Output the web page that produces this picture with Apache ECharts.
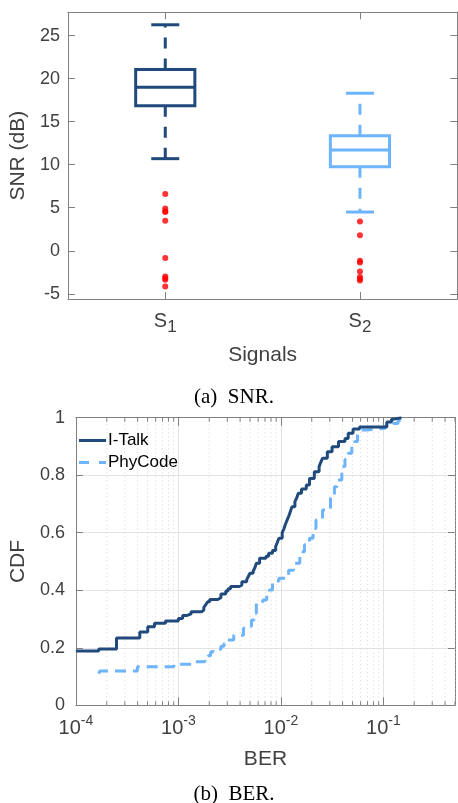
<!DOCTYPE html>
<html><head><meta charset="utf-8">
<script src="https://cdn.jsdelivr.net/npm/echarts@6/dist/echarts.min.js"></script>
<style>html,body{margin:0;padding:0;background:#fff}#c{width:458px;height:803px}</style>
</head><body><div id="c"></div>
<script>
// ---------- data ----------
const signalCategories = ['S1', 'S2'];
const signalSubscripts = ['1', '2'];
// [lower whisker, Q1, median, Q3, upper whisker]
const boxS1 = [10.7, 16.85, 19.0, 21.05, 26.25];
const boxS2 = [4.5, 9.75, 11.7, 13.35, 18.3];
const outliersS1 = [6.6, 4.9, 4.6, 4.5, 3.5, -0.85, -3.0, -3.2, -3.35, -4.15];
const outliersS2 = [3.4, 1.8, -1.15, -1.35, -2.4, -3.05, -3.25, -3.45];
const snrTicks = [-5, 0, 5, 10, 15, 20, 25];

const iTalkBER = [1.0e-4, 1.67e-4, 2.49e-4, 4.20e-4, 5.02e-4, 5.85e-4, 7.48e-4, 1.0e-3, 1.10e-3, 1.20e-3,
  1.33e-3, 1.68e-3, 1.77e-3, 1.85e-3, 1.93e-3, 2.02e-3, 2.42e-3, 2.60e-3, 2.90e-3, 3.05e-3,
  3.23e-3, 3.87e-3, 4.16e-3, 4.64e-3, 4.81e-3, 4.99e-3, 5.36e-3, 5.60e-3, 5.76e-3, 6.20e-3,
  7.16e-3, 7.59e-3, 8.28e-3, 8.89e-3, 9.22e-3, 9.57e-3, 1.03e-2, 1.07e-2, 1.10e-2, 1.15e-2,
  1.20e-2, 1.24e-2, 1.28e-2, 1.37e-2, 1.43e-2, 1.48e-2, 1.59e-2, 1.77e-2, 1.90e-2, 2.12e-2,
  2.36e-2, 2.45e-2, 2.55e-2, 2.84e-2, 3.16e-2, 3.65e-2, 4.22e-2, 4.54e-2, 5.06e-2, 5.85e-2,
  0.108, 0.120, 0.126, 0.150];
const iTalkCDF = [0.189, 0.196, 0.234, 0.255, 0.273, 0.285, 0.293, 0.302, 0.312, 0.318,
  0.325, 0.331, 0.340, 0.350, 0.360, 0.368, 0.374, 0.387, 0.397, 0.405,
  0.413, 0.418, 0.430, 0.437, 0.448, 0.459, 0.466, 0.480, 0.494, 0.511,
  0.518, 0.529, 0.538, 0.552, 0.566, 0.581, 0.600, 0.613, 0.627, 0.644,
  0.660, 0.675, 0.690, 0.708, 0.722, 0.737, 0.752, 0.766, 0.789, 0.812,
  0.830, 0.845, 0.859, 0.882, 0.899, 0.917, 0.928, 0.946, 0.961, 0.968,
  0.985, 0.995, 1.0, 1.0];

const phyBER = [1.67e-4, 1.71e-4, 3.98e-4, 9.04e-4, 1.36e-3, 1.81e-3, 1.95e-3, 2.06e-3, 2.17e-3, 2.60e-3,
  2.79e-3, 3.00e-3, 3.47e-3, 4.31e-3, 4.81e-3, 5.17e-3, 5.48e-3, 5.76e-3, 6.66e-3, 7.27e-3,
  7.71e-3, 8.28e-3, 9.57e-3, 1.19e-2, 1.33e-2, 1.53e-2, 1.70e-2, 1.90e-2, 2.06e-2, 2.20e-2,
  2.55e-2, 3.05e-2, 3.33e-2, 3.52e-2, 3.93e-2, 4.22e-2, 4.54e-2, 4.92e-2, 5.25e-2, 5.60e-2,
  5.85e-2, 6.76e-2, 0.104, 0.125, 0.139, 0.161];
const phyCDF = [0.110, 0.119, 0.134, 0.143, 0.151, 0.160, 0.172, 0.185, 0.195, 0.205,
  0.215, 0.227, 0.244, 0.268, 0.275, 0.297, 0.320, 0.355, 0.366, 0.385,
  0.401, 0.432, 0.442, 0.470, 0.494, 0.534, 0.558, 0.581, 0.615, 0.644,
  0.679, 0.725, 0.760, 0.783, 0.830, 0.855, 0.876, 0.900, 0.917, 0.940,
  0.957, 0.963, 0.971, 0.980, 0.990, 1.0];

const seriesNames = ['I-Talk', 'PhyCode'];
const captions = ['(a)  SNR.', '(b)  BER.'];

// ---------- style ----------
const FONT = '"Liberation Sans", Arial, Helvetica, sans-serif';
const SERIF = '"Liberation Serif", "Times New Roman", serif';
const TXT = '#404040';
const FRAME = '#808080';
const DARK = '#1f4a7b';
const LIGHT = '#6db4fb';
const boxColors = [DARK, LIGHT];

const boxData = [[0].concat(boxS1), [1].concat(boxS2)];
const outlierData = outliersS1.map(v => [0, v]).concat(outliersS2.map(v => [1, v]));
const minorVals = [];
for (let e = -4; e <= -1; e++) for (let m = 2; m <= 9; m++) { const v = m * Math.pow(10, e); if (v <= 0.5) minorVals.push([v, 0]); }

function renderBox(params, api) {
  const i = api.value(0);
  const mn = api.value(1), q1 = api.value(2), md = api.value(3), q3 = api.value(4), mx = api.value(5);
  const x = api.coord([i, md])[0];
  const band = api.size([1, 0])[0];
  const hw = band * 0.152, cw = band * 0.072;
  const y = v => api.coord([i, v])[1];
  const col = boxColors[i];
  const st = { stroke: col, lineWidth: 3, fill: null };
  const dash = { stroke: col, lineWidth: 3, lineDash: [11, 10], fill: null };
  return { type: 'group', children: [
    { type: 'line', shape: { x1: x, y1: y(q3), x2: x, y2: y(mx) }, style: dash },
    { type: 'line', shape: { x1: x, y1: y(q1), x2: x, y2: y(mn) }, style: dash },
    { type: 'line', shape: { x1: x - cw, y1: y(mx), x2: x + cw, y2: y(mx) }, style: st },
    { type: 'line', shape: { x1: x - cw, y1: y(mn), x2: x + cw, y2: y(mn) }, style: st },
    { type: 'rect', shape: { x: x - hw, y: y(q3), width: 2 * hw, height: y(q1) - y(q3) }, style: { stroke: col, lineWidth: 3, fill: 'rgba(0,0,0,0)' } },
    { type: 'line', shape: { x1: x - hw, y1: y(md), x2: x + hw, y2: y(md) }, style: st }
  ]};
}

function renderMinor(params, api) {
  const v = api.value(0);
  const b = api.coord([v, 0]), t = api.coord([v, 1]);
  return { type: 'group', children: [
    { type: 'line', shape: { x1: b[0], y1: b[1], x2: t[0], y2: t[1] }, style: { stroke: '#d4d4d4', lineWidth: 1, lineDash: [1, 3] } },
    { type: 'line', shape: { x1: b[0], y1: b[1], x2: b[0], y2: b[1] - 4 }, style: { stroke: FRAME, lineWidth: 1 } },
    { type: 'line', shape: { x1: t[0], y1: t[1], x2: t[0], y2: t[1] + 4 }, style: { stroke: FRAME, lineWidth: 1 } }
  ]};
}

const axLine = { show: true, onZero: false, lineStyle: { color: FRAME, width: 1 } };
const tickIn = (len) => ({ show: true, inside: true, length: len, lineStyle: { color: FRAME, width: 1 } });

const chart = echarts.init(document.getElementById('c'));
chart.setOption({
  animation: false,
  backgroundColor: '#fff',
  title: [
    { text: captions[0], left: 234, top: 387, textAlign: 'center', padding: 0,
      textStyle: { fontFamily: SERIF, fontSize: 21, fontWeight: 'normal', color: '#000' } },
    { text: captions[1], left: 234, top: 784, textAlign: 'center', padding: 0,
      textStyle: { fontFamily: SERIF, fontSize: 21, fontWeight: 'normal', color: '#000' } }
  ],
  legend: {
    data: [
      { name: seriesNames[0], icon: 'path://M0,0H27V3H0Z' },
      { name: seriesNames[1], icon: 'path://M0,0H10V3H0Z M20,0H27V3H20Z' }
    ],
    orient: 'vertical', left: 79, top: 432, itemGap: 5,
    itemWidth: 27, itemHeight: 3, padding: 0,
    textStyle: { fontFamily: FONT, fontSize: 17, color: '#000', padding: [0, 0, 0, -3] }
  },
  grid: [
    { left: 63, top: 12.3, width: 394.3, height: 286.7 },
    { left: 66.7, top: 417.7, width: 392, height: 287.6 }
  ],
  xAxis: [
    { gridIndex: 0, type: 'category', data: signalCategories, position: 'bottom', boundaryGap: true,
      axisLine: axLine, axisTick: Object.assign(tickIn(7), { alignWithLabel: true }),
      axisLabel: { margin: 12, formatter: (v, i) => '{a|S}{b|' + signalSubscripts[i] + '}',
        rich: { a: { fontFamily: FONT, fontSize: 20, lineHeight: 25, verticalAlign: 'top', color: TXT },
                b: { fontFamily: FONT, fontSize: 17, lineHeight: 25, verticalAlign: 'bottom', color: TXT } } },
      name: 'Signals', nameLocation: 'middle', nameGap: 46,
      nameTextStyle: { fontFamily: FONT, fontSize: 21, color: TXT } },
    { gridIndex: 0, type: 'category', data: signalCategories, position: 'top', boundaryGap: true,
      axisLine: axLine, axisTick: Object.assign(tickIn(7), { alignWithLabel: true }), axisLabel: { show: false } },
    { gridIndex: 1, type: 'log', logBase: 10, min: 1e-4, max: 0.5, position: 'bottom', splitNumber: 4,
      axisLine: axLine, axisTick: tickIn(8),
      splitLine: { show: true, lineStyle: { color: '#e3e3e3', width: 1 } },
      axisLabel: { margin: 9, formatter: v => {
          const e = Math.log10(v); const r = Math.round(e);
          if (Math.abs(e - r) > 1e-6) return '';
          return '{b|10}{s|' + r + '}';
        },
        rich: { b: { fontFamily: FONT, fontSize: 20, lineHeight: 24, verticalAlign: 'bottom', color: TXT },
                s: { fontFamily: FONT, fontSize: 14, lineHeight: 24, verticalAlign: 'top', color: TXT } } },
      name: 'BER', nameLocation: 'middle', nameGap: 43,
      nameTextStyle: { fontFamily: FONT, fontSize: 21, color: TXT } },
    { gridIndex: 1, type: 'log', logBase: 10, min: 1e-4, max: 0.5, position: 'top', splitNumber: 4,
      axisLine: axLine, axisTick: tickIn(8), axisLabel: { show: false }, splitLine: { show: false } }
  ],
  yAxis: [
    { gridIndex: 0, type: 'value', min: -5.6, max: 27.7, position: 'left',
      axisLine: axLine, axisTick: Object.assign(tickIn(7), { customValues: snrTicks }),
      splitLine: { show: false },
      axisLabel: { customValues: snrTicks, margin: 8, fontFamily: FONT, fontSize: 18, color: TXT },
      name: 'SNR (dB)', nameLocation: 'middle', nameGap: 26,
      nameTextStyle: { fontFamily: FONT, fontSize: 21, color: TXT } },
    { gridIndex: 0, type: 'value', min: -5.6, max: 27.7, position: 'right',
      axisLine: axLine, axisTick: Object.assign(tickIn(7), { customValues: snrTicks }),
      splitLine: { show: false }, axisLabel: { show: false } },
    { gridIndex: 1, type: 'value', min: 0, max: 1, interval: 0.2, position: 'left',
      axisLine: axLine, axisTick: tickIn(7),
      splitLine: { show: true, lineStyle: { color: '#e3e3e3', width: 1 } },
      axisLabel: { margin: 11, fontFamily: FONT, fontSize: 18, color: TXT },
      name: 'CDF', nameLocation: 'middle', nameGap: 41,
      nameTextStyle: { fontFamily: FONT, fontSize: 21, color: TXT } },
    { gridIndex: 1, type: 'value', min: 0, max: 1, interval: 0.2, position: 'right',
      axisLine: axLine, axisTick: tickIn(7), splitLine: { show: false }, axisLabel: { show: false } }
  ],
  series: [
    { type: 'custom', name: 'box', xAxisIndex: 0, yAxisIndex: 0, renderItem: renderBox,
      encode: { x: 0, y: [1, 2, 3, 4, 5] }, data: boxData, z: 3, silent: true },
    { type: 'scatter', name: 'outliers', xAxisIndex: 0, yAxisIndex: 0, data: outlierData,
      symbol: 'circle', symbolSize: 6, itemStyle: { color: '#ff0000' }, z: 4, silent: true },
    { type: 'custom', name: 'minor', xAxisIndex: 2, yAxisIndex: 2, renderItem: renderMinor,
      encode: { x: 0, y: 1 }, data: minorVals, z: 1, silent: true, clip: false },
    { type: 'line', name: seriesNames[0], xAxisIndex: 2, yAxisIndex: 2, step: 'end',
      data: iTalkBER.map((b, i) => [b, iTalkCDF[i]]), symbol: 'none', showSymbol: false,
      lineStyle: { color: DARK, width: 3 }, itemStyle: { color: DARK }, z: 5 },
    { type: 'line', name: seriesNames[1], xAxisIndex: 2, yAxisIndex: 2, step: 'end',
      data: phyBER.map((b, i) => [b, phyCDF[i]]), symbol: 'none', showSymbol: false,
      lineStyle: { color: LIGHT, width: 3, type: [11, 7] }, itemStyle: { color: LIGHT }, z: 4 }
  ]
});
</script></body></html>
